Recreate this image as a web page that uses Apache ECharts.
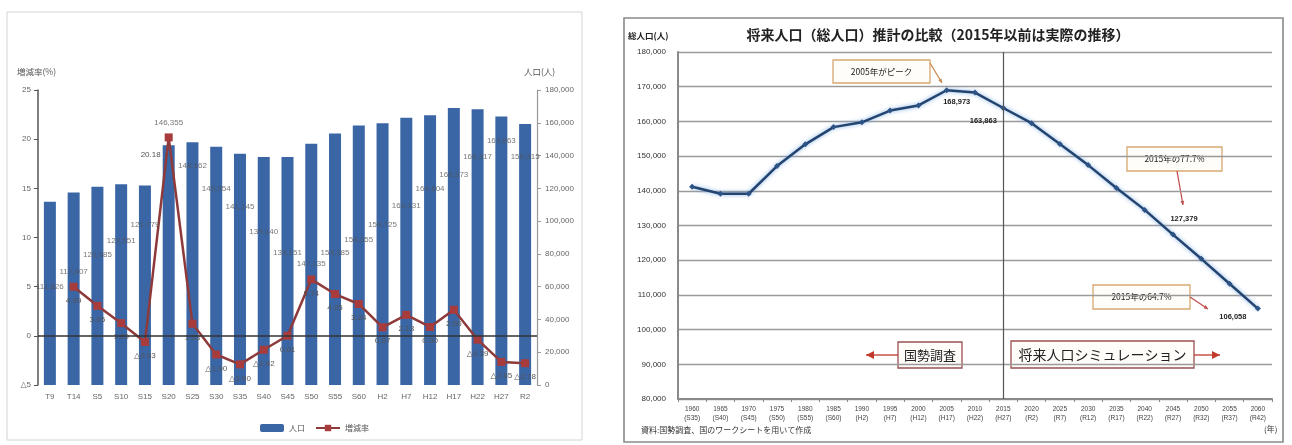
<!DOCTYPE html>
<html><head><meta charset="utf-8">
<script src="https://cdn.jsdelivr.net/npm/echarts@6/dist/echarts.min.js"></script>
<style>html,body{margin:0;padding:0;background:#fff}#c{width:1292px;height:445px}</style>
</head><body><div id="c"></div><script>
// ---- Left chart data (census) ----
const censusCats = ['T9','T14','S5','S10','S15','S20','S25','S30','S35','S40','S45','S50','S55','S60','H2','H7','H12','H17','H22','H27','R2'];
const population = [111826,117407,120985,122551,121779,146355,148162,145354,141145,139140,139151,147135,153385,158355,159725,163131,164604,168973,168317,163863,159315];
const growthRate = [null,4.99,3.05,1.29,-0.63,20.18,1.23,-1.90,-2.90,-1.42,0.01,5.74,4.25,3.24,0.87,2.13,0.90,2.65,-0.39,-2.65,-2.78];
// where each population label sits, expressed on the growth-rate axis (%)
const popLabelAnchor = [5.0,6.5,8.2,9.7,11.3,21.7,17.3,15.0,13.1,10.6,8.4,7.3,8.4,9.8,11.3,13.2,15.0,16.4,18.2,19.8,18.2];
const rateTicks = {min:-5, max:25, step:5};
const popTicks = {min:0, max:180000, step:20000};

// ---- Right chart data (projection) ----
const projYears = ['1960','1965','1970','1975','1980','1985','1990','1995','2000','2005','2010','2015','2020','2025','2030','2035','2040','2045','2050','2055','2060'];
const projEra = ['(S35)','(S40)','(S45)','(S50)','(S55)','(S60)','(H2)','(H7)','(H12)','(H17)','(H22)','(H27)','(R2)','(R7)','(R12)','(R17)','(R22)','(R27)','(R32)','(R37)','(R42)'];
const projPopulation = [141145,139140,139151,147135,153385,158355,159725,163131,164604,168973,168317,163863,159500,153500,147400,140800,134500,127379,120400,113200,106058];
const projTicks = {min:80000, max:180000, step:10000};

const JP = '"Noto Sans CJK JP", "Noto Sans", sans-serif';
const NUM = '"Liberation Sans", "DejaVu Sans", sans-serif';
const fmt = v => Number(v).toLocaleString('en-US');
const fmtRate = v => v < 0 ? '△' + Math.abs(v).toFixed(2) : v.toFixed(2);

const rateData = growthRate.map((v, i) => i === 5
  ? {value: v, label: {position: 'left', offset: [2, 17]}}
  : v);

const projLabelCfg = {
  9: {position: 'bottom', offset: [10, 0]},
  11: {position: 'bottom', offset: [-20, 1]},
  17: {position: 'top', offset: [11, -4]},
  20: {position: 'bottom', offset: [-25, -4]}
};
const projData = projPopulation.map((v, i) => projLabelCfg[i]
  ? {value: v, label: Object.assign({show: true}, projLabelCfg[i])}
  : v);

function arrow(x1, y1, x2, y2, color, size) {
  const ang = Math.atan2(y2 - y1, x2 - x1);
  const s = size;
  const p1 = [x2, y2];
  const p2 = [x2 - s * Math.cos(ang) + s * 0.5 * Math.sin(ang), y2 - s * Math.sin(ang) - s * 0.5 * Math.cos(ang)];
  const p3 = [x2 - s * Math.cos(ang) - s * 0.5 * Math.sin(ang), y2 - s * Math.sin(ang) + s * 0.5 * Math.cos(ang)];
  return [
    {type: 'line', silent: true, shape: {x1, y1, x2, y2}, style: {stroke: color, lineWidth: 1.3}},
    {type: 'polygon', silent: true, shape: {points: [p1, p2, p3]}, style: {fill: color}}
  ];
}
function box(x, y, w, h, text, stroke, size, bold) {
  return [
    {type: 'rect', silent: true, shape: {x, y, width: w, height: h}, style: {fill: '#fffdf9', stroke: stroke, lineWidth: 1.3}},
    {type: 'text', silent: true, x: x + w / 2, y: y + h / 2, style: {text, fill: '#222', font: (bold ? 'bold ' : '') + size + 'px ' + JP, align: 'center', verticalAlign: 'middle'}}
  ];
}

const graphics = [
  // frames
  {type: 'rect', silent: true, z: -10, shape: {x: 7, y: 12, width: 575, height: 428}, style: {fill: 'none', stroke: '#d4d4d4', lineWidth: 1}},
  {type: 'rect', silent: true, z: -10, shape: {x: 624, y: 18, width: 659, height: 424}, style: {fill: 'none', stroke: '#8a8a8a', lineWidth: 1.6}},
  // left chart axis titles
  {type: 'text', silent: true, x: 17, y: 72, style: {text: '増減率(%)', fill: '#555', font: '8.5px ' + JP, verticalAlign: 'middle'}},
  {type: 'text', silent: true, x: 524, y: 72, style: {text: '人口(人)', fill: '#555', font: '8.5px ' + JP, verticalAlign: 'middle'}},
  // right chart texts
  {type: 'text', silent: true, x: 938, y: 35, style: {text: '将来人口（総人口）推計の比較（2015年以前は実際の推移）', fill: '#222', font: 'bold 14px ' + JP, align: 'center', verticalAlign: 'middle'}},
  {type: 'text', silent: true, x: 628, y: 36, style: {text: '総人口(人)', fill: '#222', font: 'bold 8.5px ' + JP, verticalAlign: 'middle'}},
  {type: 'text', silent: true, x: 641, y: 430, style: {text: '資料:国勢調査、国のワークシートを用いて作成', fill: '#333', font: '8px ' + JP, verticalAlign: 'middle'}},
  {type: 'text', silent: true, x: 1264, y: 429, style: {text: '(年)', fill: '#333', font: '8px ' + JP, verticalAlign: 'middle'}},
  ...box(833, 60, 97, 23, '2005年がピーク', '#d8a870', 8.5, false),
  ...arrow(930, 63, 942, 83, '#c88a55', 4),
  ...box(1127, 147, 95, 24, '2015年の77.7%', '#d8a870', 8.5, false),
  ...arrow(1177, 171, 1183, 205, '#c0504d', 4),
  ...box(1093, 285, 97, 24, '2015年の64.7%', '#d8a870', 8.5, false),
  ...arrow(1190, 297, 1208, 309, '#c0504d', 4),
  ...box(898, 342, 64, 26, '国勢調査', '#9a5050', 13, false),
  ...arrow(898, 355, 866, 355, '#c0392b', 8),
  ...box(1011, 341, 183, 27, '将来人口シミュレーション', '#9a5050', 14, false),
  ...arrow(1194, 355, 1220, 355, '#c0392b', 8)
];

const chart = echarts.init(document.getElementById('c'));
chart.setOption({
  animation: false,
  backgroundColor: '#fff',
  textStyle: {fontFamily: NUM},
  legend: {
    data: ['人口', '増減率'], left: 255, top: 419, itemWidth: 24, itemHeight: 8, itemGap: 10,
    textStyle: {fontSize: 8, color: '#555', fontFamily: JP}
  },
  grid: [
    {left: 38, top: 90, width: 499, height: 295},
    {left: 678, top: 52, width: 594, height: 347}
  ],
  xAxis: [
    {type: 'category', gridIndex: 0, data: censusCats, axisLine: {show: false}, axisTick: {show: false},
     axisLabel: {fontSize: 8, color: '#666', margin: 8, interval: 0}},
    {type: 'category', gridIndex: 1, data: projYears,
     axisLine: {lineStyle: {color: '#8a8a8a', width: 2}},
     axisTick: {show: true, lineStyle: {color: '#8a8a8a'}, length: 3},
     axisLabel: {interval: 0, fontSize: 6.5, color: '#444', margin: 6, lineHeight: 9,
       formatter: (v, i) => v + '\n' + projEra[i]}}
  ],
  yAxis: [
    {type: 'value', gridIndex: 0, min: rateTicks.min, max: rateTicks.max, interval: rateTicks.step,
     axisLine: {show: true, lineStyle: {color: '#555', width: 1.5}},
     axisTick: {show: true, length: 4, lineStyle: {color: '#555'}},
     splitLine: {show: false},
     axisLabel: {fontSize: 8, color: '#666', margin: 7, formatter: v => v < 0 ? '△' + Math.abs(v) : String(v)}},
    {type: 'value', gridIndex: 0, position: 'right', min: popTicks.min, max: popTicks.max, interval: popTicks.step,
     axisLine: {show: true, lineStyle: {color: '#999', width: 1.2}},
     axisTick: {show: true, length: 4, lineStyle: {color: '#999'}},
     splitLine: {show: false},
     axisLabel: {fontSize: 8, color: '#666', margin: 8, formatter: v => fmt(v)}},
    {type: 'value', gridIndex: 1, min: projTicks.min, max: projTicks.max, interval: projTicks.step,
     axisLine: {show: true, lineStyle: {color: '#8a8a8a', width: 2}},
     axisTick: {show: false},
     splitLine: {show: true, lineStyle: {color: '#9a9a9a', width: 1.3}},
     axisLabel: {fontSize: 8, color: '#333', margin: 12, formatter: v => fmt(v)}}
  ],
  series: [
    {name: '人口', type: 'bar', xAxisIndex: 0, yAxisIndex: 1, data: population, barWidth: 12,
     itemStyle: {color: '#3a66a6'}, z: 2},
    {name: '増減率', type: 'line', xAxisIndex: 0, yAxisIndex: 0, data: rateData,
     symbol: 'rect', symbolSize: 8, connectNulls: false,
     lineStyle: {color: '#8e3a3a', width: 2.5}, itemStyle: {color: '#a83c3c'},
     label: {show: true, position: 'bottom', distance: 6, fontSize: 8, color: '#555', formatter: p => fmtRate(p.value)},
     markLine: {silent: true, symbol: 'none', label: {show: false}, animation: false,
       lineStyle: {color: '#333', width: 1.5, type: 'solid'}, data: [{yAxis: 0}]},
     z: 4},
    {name: 'popLabels', type: 'scatter', xAxisIndex: 0, yAxisIndex: 0, data: popLabelAnchor,
     symbolSize: 1, itemStyle: {color: 'rgba(0,0,0,0)'}, silent: true, z: 6,
     label: {show: true, position: 'inside', fontSize: 8, color: '#555', formatter: p => fmt(population[p.dataIndex])}},
    {name: 'projection', type: 'line', xAxisIndex: 1, yAxisIndex: 2, data: projData,
     symbol: 'diamond', symbolSize: 6,
     lineStyle: {color: '#23446f', width: 2.5, shadowColor: 'rgba(120,170,225,0.95)', shadowBlur: 4},
     itemStyle: {color: '#2d5487'},
     label: {show: false, fontSize: 7.5, color: '#222', fontWeight: 'bold', formatter: p => fmt(p.value)},
     markLine: {silent: true, symbol: 'none', label: {show: false}, animation: false,
       lineStyle: {color: '#555', width: 1.2, type: 'solid'}, data: [{xAxis: '2015'}]},
     z: 4}
  ],
  graphic: graphics
});
</script></body></html>
